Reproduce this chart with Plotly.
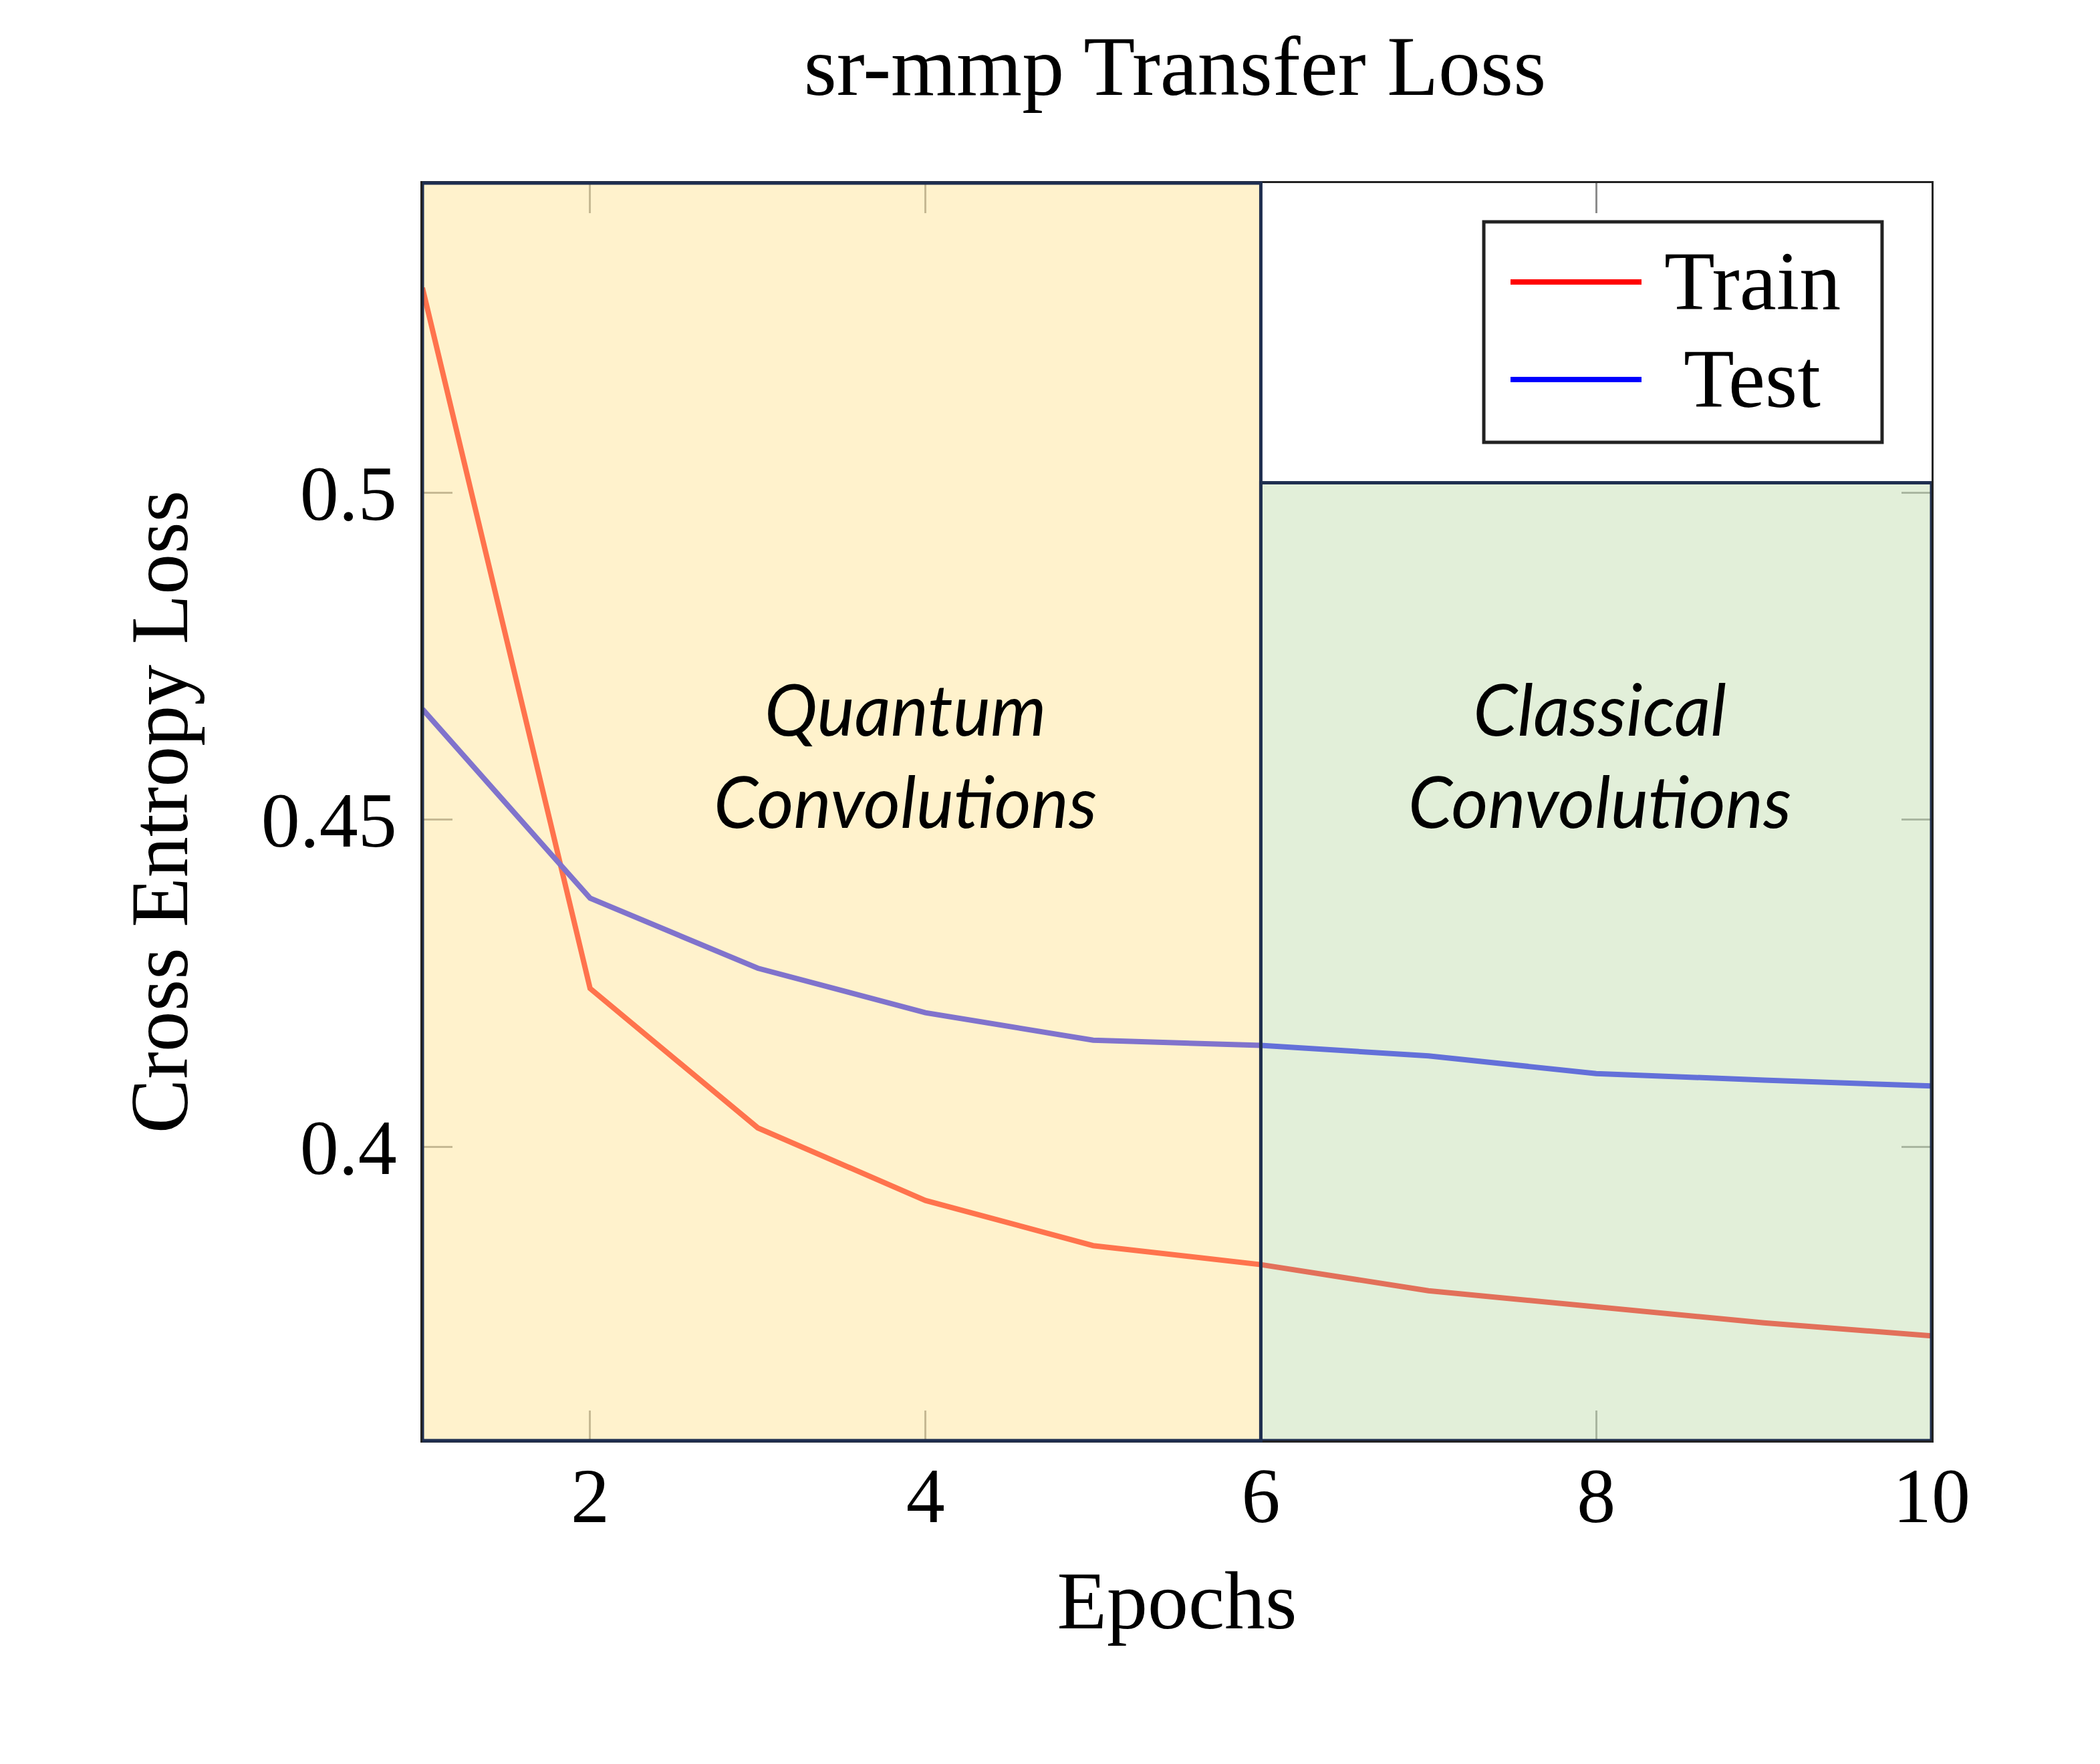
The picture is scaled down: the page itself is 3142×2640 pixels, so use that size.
import plotly.graph_objects as go

# loss values
epochs = [1, 2, 3, 4, 5, 6, 7, 8, 9, 10]
train_loss = [0.5313, 0.4242, 0.4029, 0.3918, 0.3849, 0.3820, 0.3780, 0.3756, 0.3731, 0.3711]
test_loss = [0.4669, 0.4380, 0.4273, 0.4205, 0.4163, 0.4155, 0.4139, 0.4112, 0.4102, 0.4093]

x_ticks = [2, 4, 6, 8, 10]
y_ticks = [0.4, 0.45, 0.5]
y_tick_labels = ["0.4", "0.45", "0.5"]

# shaded phases of training
quantum_span = (1, 6)
classical_span = (6, 10)
classical_top = 0.5015
phase_labels = ["Quantum<br>Convolutions", "Classical<br>Convolutions"]
phase_label_x = [3.88, 8.02]
phase_label_y = 0.4600

series_names = ["Train", "Test"]
series_colors = ["#ff0000", "#0000ff"]

SERIF = "Liberation Serif"
FRAME = "#1f2f50"

fig = go.Figure()
for name, vals, col in zip(series_names, [train_loss, test_loss], series_colors):
    fig.add_trace(go.Scatter(x=epochs, y=vals, mode="lines", name=name,
                             line=dict(color=col, width=8), showlegend=False))

# translucent boxes drawn over the lines, like the pasted overlay in the original
fig.add_shape(type="rect", xref="x", yref="paper", x0=quantum_span[0], x1=quantum_span[1],
              y0=0, y1=1, layer="above", fillcolor="rgba(255,230,153,0.5)",
              line=dict(color=FRAME, width=5))
fig.add_shape(type="rect", xref="x", yref="y", x0=classical_span[0], x1=classical_span[1],
              y0=0.3551, y1=classical_top, layer="above", fillcolor="rgba(197,224,180,0.5)",
              line=dict(color=FRAME, width=5))

for txt, xpos in zip(phase_labels, phase_label_x):
    fig.add_annotation(x=xpos, y=phase_label_y, xref="x", yref="y", text=txt, showarrow=False,
                       font=dict(family="Lato", size=106, color="black", style="italic"),
                       align="center", xanchor="center", yanchor="middle")

# legend box in the pgfplots style (long sample lines, centred labels)
fig.add_shape(type="rect", xref="paper", yref="paper", x0=0.7033, x1=0.9672, y0=0.7938, y1=0.9692,
              line=dict(color="#222222", width=5), fillcolor="white", layer="above")
for name, col, ypos in zip(series_names, series_colors, [0.9214, 0.8438]):
    fig.add_shape(type="line", xref="paper", yref="paper", x0=0.7210, x1=0.8078, y0=ypos, y1=ypos,
                  line=dict(color=col, width=8), layer="above")
    fig.add_annotation(x=0.8813, y=ypos, xref="paper", yref="paper", text=name, showarrow=False,
                       font=dict(family=SERIF, size=124, color="black"),
                       xanchor="center", yanchor="middle")

axis_style = dict(showline=True, linecolor="#222222", linewidth=3, mirror="ticks",
                  ticks="inside", ticklen=45, tickwidth=3, tickcolor="#8c8c8c",
                  showgrid=False, zeroline=False,
                  tickfont=dict(family=SERIF, size=116, color="black"))

fig.update_layout(
    width=3142, height=2640,
    margin=dict(l=632, r=252, t=274, b=484),
    paper_bgcolor="white", plot_bgcolor="white",
    title=dict(text="sr-mmp Transfer Loss", x=0.5595, xanchor="center", y=0.963, yanchor="middle",
               font=dict(family=SERIF, size=126, color="black")),
    xaxis=dict(range=[1, 10], tickvals=x_ticks, ticklabelstandoff=-20,
               title=dict(text="Epochs", standoff=50, font=dict(family=SERIF, size=122, color="black")),
               **axis_style),
    yaxis=dict(range=[0.3551, 0.5473], tickvals=y_ticks, ticktext=y_tick_labels, ticklabelstandoff=12,
               title=dict(text="Cross Entropy Loss", standoff=70,
                          font=dict(family=SERIF, size=122, color="black")),
               **axis_style),
)

fig.write_html("out.html", config={"displayModeBar": False},
               post_script="document.body.style.margin='0';")
